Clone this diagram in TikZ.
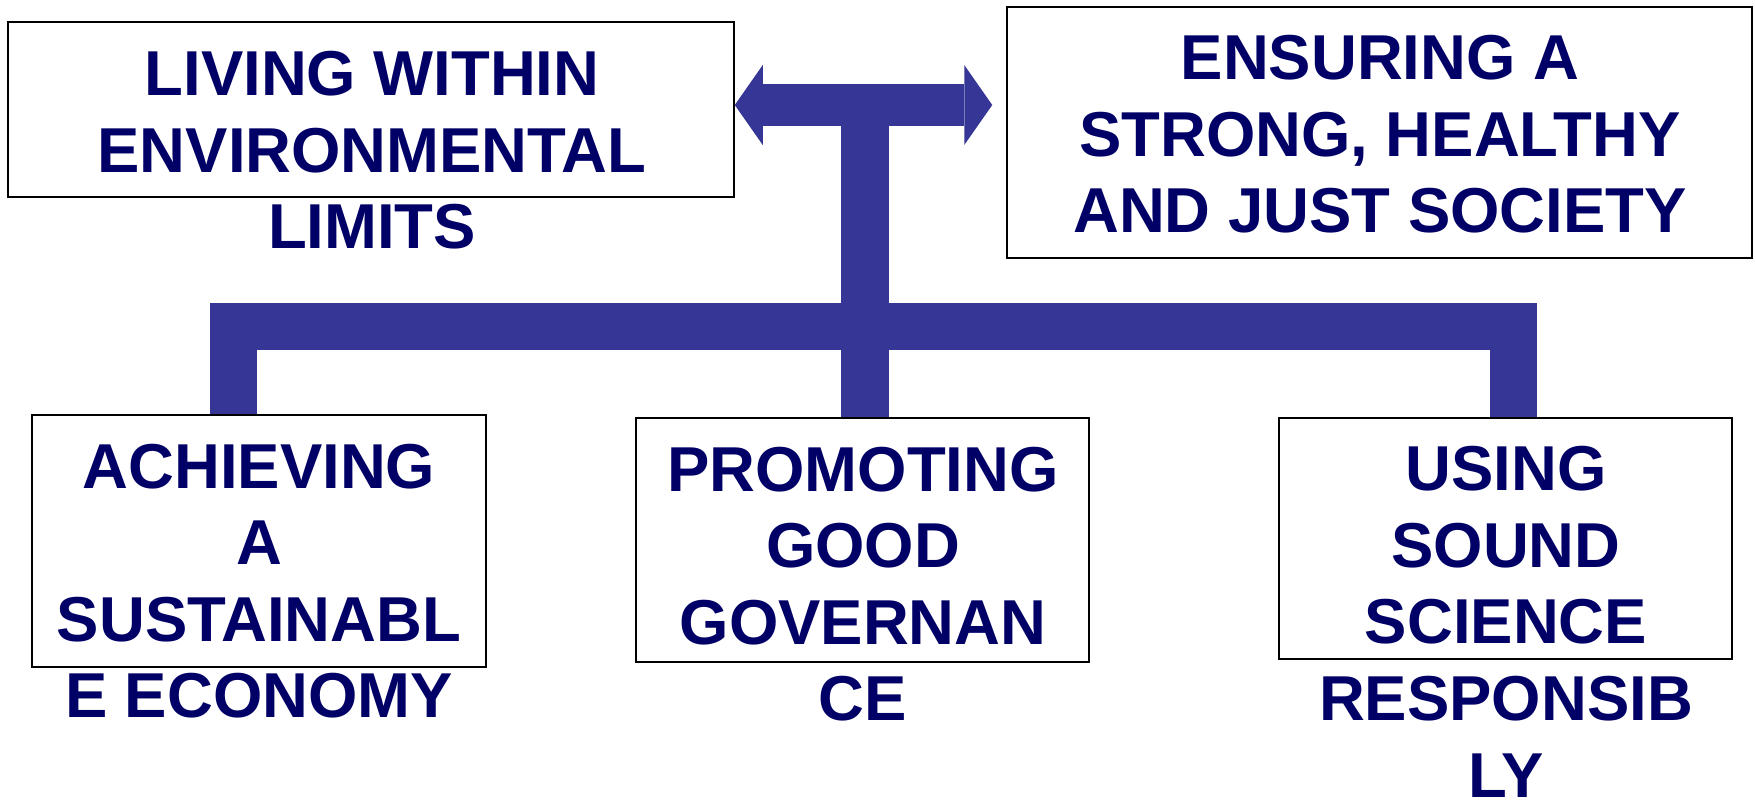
\documentclass[tikz,border=0pt]{standalone}
\usepackage{fontspec}
\setmainfont{Liberation Sans}
\usetikzlibrary{arrows.meta}
\definecolor{barblue}{RGB}{54,54,150}
\definecolor{textnavy}{RGB}{0,0,102}

\begin{document}
\begin{tikzpicture}[>={Triangle[length=28bp,width=80bp,line width=0pt]},line join=miter,
  goalbox/.style={draw=black,line width=1.5bp,inner sep=0pt},
  goaltext/.style={align=center,text=textnavy,inner sep=0pt,anchor=base,
    font=\fontsize{63.7}{76.8}\selectfont\bfseries},
  trunk/.style={draw=barblue,line width=47bp}]
%%
\useasboundingbox (0bp,0bp) rectangle (1755bp,800bp);
\node (box_0) at (371bp,690.5bp) [goalbox,minimum width=726bp,minimum height=175bp] {};
  \node (box_1) at (1379.5bp,667.5bp) [goalbox,minimum width=745bp,minimum height=251bp] {};
  \node (box_2) at (259bp,259bp) [goalbox,minimum width=454bp,minimum height=252bp] {};
  \node (box_3) at (862.5bp,260bp) [goalbox,minimum width=453bp,minimum height=244bp] {};
  \node (box_4) at (1505.5bp,261.5bp) [goalbox,minimum width=453bp,minimum height=241bp] {};
  \node (text_0) at (372bp,551bp) [goaltext] {LIVING WITHIN\\ENVIRONMENTAL\\LIMITS};
  \node (text_1) at (1380bp,567bp) [goaltext] {ENSURING A\\STRONG, HEALTHY\\AND JUST SOCIETY};
  \node (text_2) at (259bp,82bp) [goaltext] {ACHIEVING\\A\\SUSTAINABL\\E ECONOMY};
  \node (text_3) at (863bp,79bp) [goaltext] {PROMOTING\\GOOD\\GOVERNAN\\CE};
  \node (text_4) at (1506bp,3bp) [goaltext] {USING\\SOUND\\SCIENCE\\RESPONSIB\\LY};
  \coordinate (hub) at (865bp,695bp);
  \coordinate (bus_l) at (233bp,473.5bp);
  \coordinate (bus_r) at (1513bp,473.5bp);
  \draw [trunk,line width=42bp,<->,shorten >=14bp] (hub -| box_0.east) -- (hub -| box_1.west);
  \draw [trunk,line width=48bp] ([yshift=21bp]hub) -- (hub |- box_3.north);
  \draw [trunk] (box_2.north -| bus_l) -- (bus_l) -- (bus_r) -- (box_4.north -| bus_r);
%
\end{tikzpicture}
\end{document}
